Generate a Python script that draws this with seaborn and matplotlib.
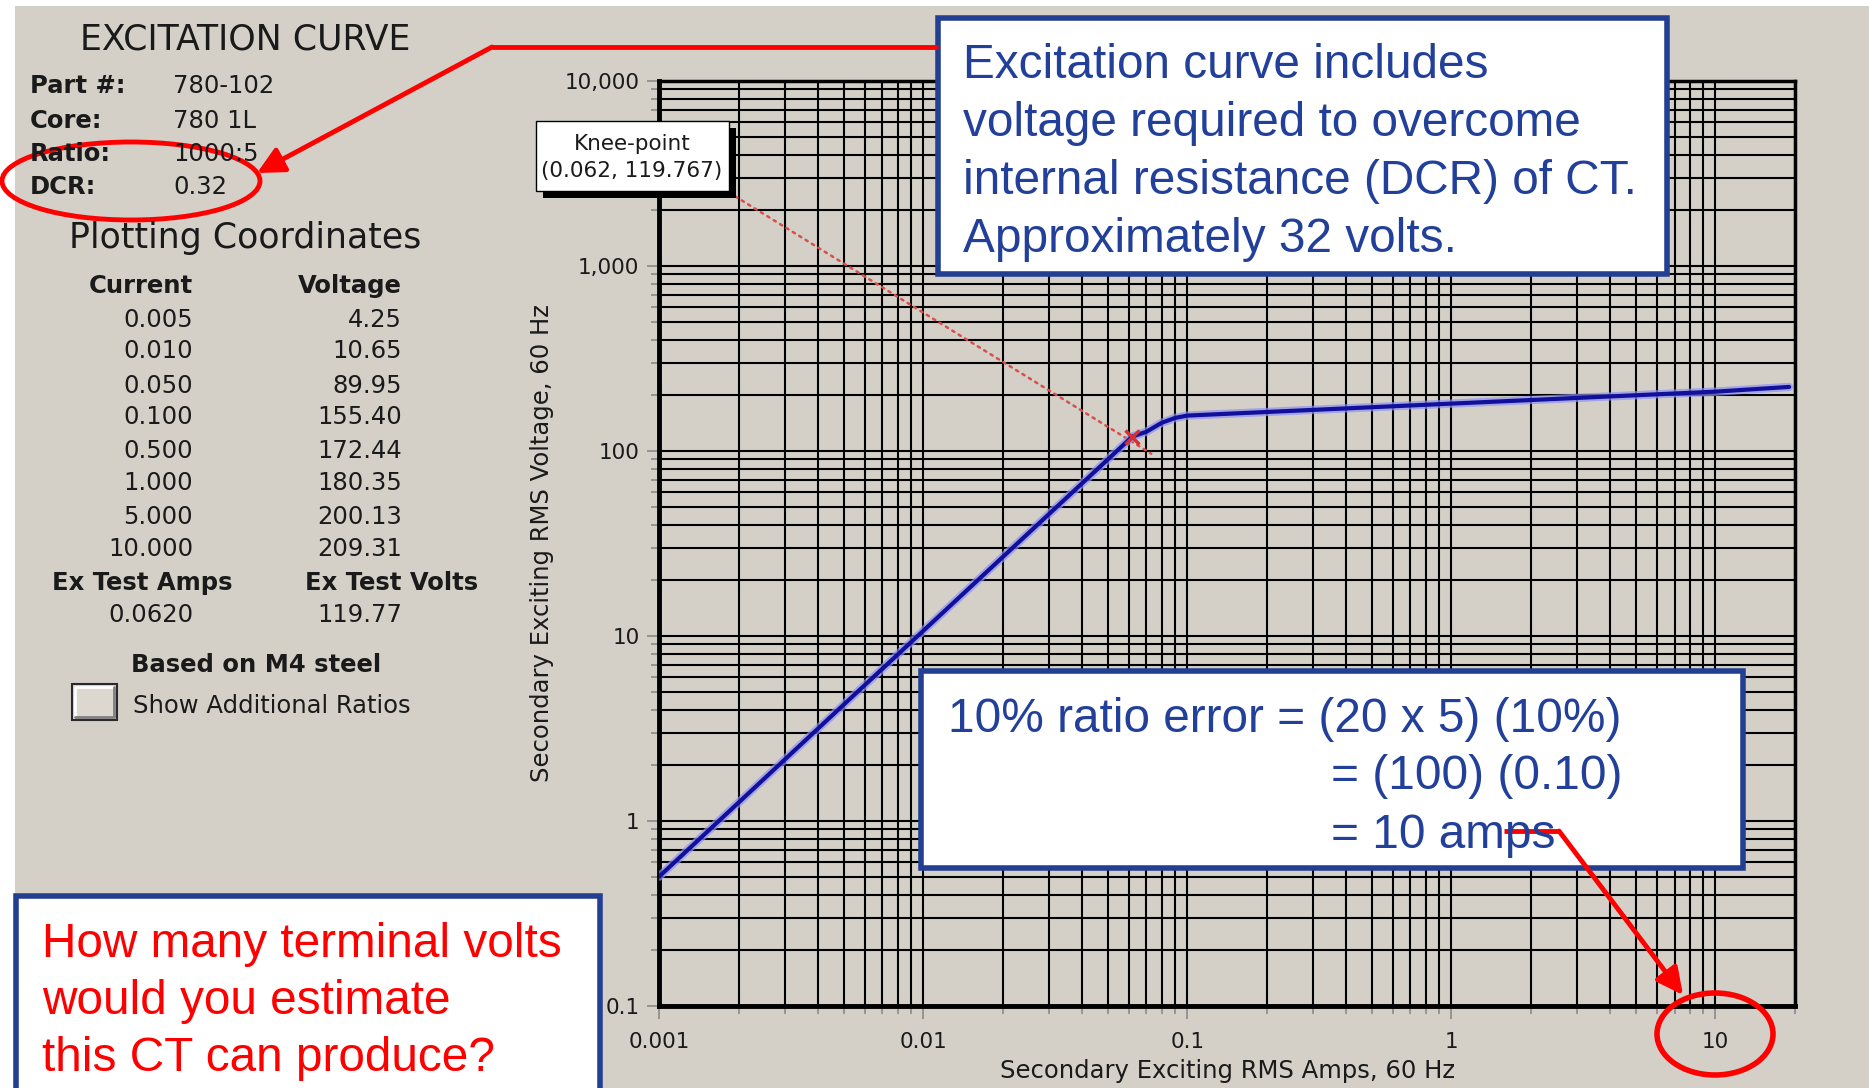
import numpy as np
import matplotlib.pyplot as plt
import matplotlib.patheffects as pe
from matplotlib.patches import Rectangle, Ellipse, FancyArrowPatch
from matplotlib.ticker import LogLocator, NullFormatter
import seaborn as sns

# excitation curve (table points + a few read points)
curve_amps = [0.001, 0.005, 0.010, 0.050, 0.062, 0.070, 0.080, 0.090, 0.100,
              0.500, 1.000, 5.000, 10.000, 19.0]
curve_volts = [0.50, 4.25, 10.65, 89.95, 119.77, 127.0, 142.0, 151.0, 155.40,
               172.44, 180.35, 200.13, 209.31, 222.0]

knee_amps = 0.062
knee_volts = 119.767

info_labels = ["Part #:", "Core:", "Ratio:", "DCR:"]
info_values = ["780-102", "780 1L", "1000:5", "0.32"]

table_amps = [0.005, 0.010, 0.050, 0.100, 0.500, 1.000, 5.000, 10.000]
table_volts = [4.25, 10.65, 89.95, 155.40, 172.44, 180.35, 200.13, 209.31]
ex_test_amps = 0.0620
ex_test_volts = 119.77

x_ticks = [0.001, 0.01, 0.1, 1, 10]
x_ticklabels = ["0.001", "0.01", "0.1", "1", "10"]
y_ticks = [0.1, 1, 10, 100, 1000, 10000]
y_ticklabels = ["0.1", "1", "10", "100", "1,000", "10,000"]

note_top = ["Excitation curve includes", "voltage required to overcome",
            "internal resistance (DCR) of CT.", "Approximately 32 volts."]
note_ratio = ["10% ratio error = (20 x 5) (10%)", "= (100) (0.10)", "= 10 amps"]
note_question = ["How many terminal volts", "would you estimate", "this CT can produce?"]

W, H = 1869, 1088
GREY = "#D4D0C8"
BOX_BLUE = "#233F92"
TXT_BLUE = "#22409A"
RED = "#FF0000"
INK = "#1a1a1a"

sns.set_style("ticks")
plt.rcParams["font.family"] = ["DejaVu Sans"]

fig = plt.figure(figsize=(W / 100, H / 100), dpi=100, facecolor="white")
fig.add_artist(Rectangle((15 / W, 0), 1 - 15 / W, 1 - 6 / H, transform=fig.transFigure,
                         facecolor=GREY, edgecolor="none", zorder=-5))

# ---- main log-log chart
ax = fig.add_axes([659 / W, 1 - 1006 / H, 1136 / W, 925 / H])
ax.set_facecolor(GREY)
ax.set_xscale("log")
ax.set_yscale("log")
sns.lineplot(x=curve_amps, y=curve_volts, ax=ax, color="#10109C", lw=3,
             estimator=None, sort=False, zorder=5,
             path_effects=[pe.Stroke(linewidth=6, foreground="#9090F0", alpha=0.7), pe.Normal()])

ax.set_xlim(0.001, 20)
ax.set_ylim(0.1, 10000)
ax.set_xticks(x_ticks, x_ticklabels)
ax.set_yticks(y_ticks, y_ticklabels)
ax.xaxis.set_minor_locator(LogLocator(base=10, subs=np.arange(2, 10)))
ax.yaxis.set_minor_locator(LogLocator(base=10, subs=np.arange(2, 10)))
ax.xaxis.set_minor_formatter(NullFormatter())
ax.yaxis.set_minor_formatter(NullFormatter())
ax.set_axisbelow(True)
ax.grid(which="both", color="black", lw=1.5)
for s in ax.spines.values():
    s.set_visible(True)
    s.set_color("black")
    s.set_linewidth(2.5)
ax.spines["left"].set_linewidth(3.5)
ax.spines["bottom"].set_linewidth(3.5)

ax.tick_params(which="both", direction="out", color="#8a8a8a", width=1.2,
               labelsize=15.5, labelcolor=INK)
ax.tick_params(which="major", length=9)
ax.tick_params(which="minor", length=6)
ax.tick_params(axis="y", pad=5)
ax.tick_params(axis="x", pad=10)

ax.set_xlabel("Secondary Exciting RMS Amps, 60 Hz", fontsize=17.5, color=INK)
ax.set_ylabel("Secondary Exciting RMS Voltage, 60 Hz", fontsize=17.5, color=INK)
ax.xaxis.set_label_coords(0.5, (1006 - 1071) / 925)
ax.yaxis.set_label_coords((542 - 659) / 1136, 0.5)
ax.xaxis.label.set_va("center")
ax.yaxis.label.set_va("center")

# knee-point pointer
ax.annotate("", xy=(0.0746, 95), xytext=(733, H - 195), textcoords="figure pixels",
            arrowprops=dict(arrowstyle="-", color="#D8504A", lw=1.8, ls=(0, (1, 2))),
            annotation_clip=False)
ax.plot([knee_amps], [knee_volts], marker="x", color="#D83030", ms=10, mew=2.5, zorder=6)

# ---- overlay in pixel coordinates (origin top-left)
ov = fig.add_axes([0, 0, 1, 1], zorder=10)
ov.set_xlim(0, W)
ov.set_ylim(H, 0)
ov.axis("off")
ov.patch.set_alpha(0)

# knee-point label box with shadow
ov.add_patch(Rectangle((543, 128), 193, 70, facecolor="black", edgecolor="none"))
ov.add_patch(Rectangle((536, 121), 193, 70, facecolor="white", edgecolor="black", lw=1))
ov.text(632, 144, "Knee-point", ha="center", va="center", fontsize=15.5, color=INK)
ov.text(632, 171, f"({knee_amps:.3f}, {knee_volts:.3f})", ha="center", va="center",
        fontsize=15.5, color=INK)

# left info panel
ov.text(245, 50, "EXCITATION CURVE", ha="center", va="baseline", fontsize=25, color=INK)
info_base = [93, 128, 161, 194]
for lab, val, yb in zip(info_labels, info_values, info_base):
    ov.text(30, yb, lab, ha="left", va="baseline", fontsize=17.5, fontweight="bold", color=INK)
    ov.text(173, yb, val, ha="left", va="baseline", fontsize=17.5, color=INK)

ov.text(245, 248, "Plotting Coordinates", ha="center", va="baseline", fontsize=25, color=INK)
ov.text(193, 293, "Current", ha="right", va="baseline", fontsize=17.5, fontweight="bold", color=INK)
ov.text(402, 293, "Voltage", ha="right", va="baseline", fontsize=17.5, fontweight="bold", color=INK)
row_base = [327, 358, 393, 424, 458, 490, 524, 556]
for a, v, yb in zip(table_amps, table_volts, row_base):
    ov.text(193, yb, f"{a:.3f}", ha="right", va="baseline", fontsize=17.5, color=INK)
    ov.text(402, yb, f"{v:.2f}", ha="right", va="baseline", fontsize=17.5, color=INK)

ov.text(142, 590, "Ex Test Amps", ha="center", va="baseline", fontsize=17.5, fontweight="bold", color=INK)
ov.text(392, 590, "Ex Test Volts", ha="center", va="baseline", fontsize=17.5, fontweight="bold", color=INK)
ov.text(193, 622, f"{ex_test_amps:.4f}", ha="right", va="baseline", fontsize=17.5, color=INK)
ov.text(402, 622, f"{ex_test_volts:.2f}", ha="right", va="baseline", fontsize=17.5, color=INK)
ov.text(256, 672, "Based on M4 steel", ha="center", va="baseline", fontsize=17.5, fontweight="bold", color=INK)

# checkbox
ov.add_patch(Rectangle((72, 684), 45, 36, facecolor="#DCD8D0", edgecolor="#2a2a2a", lw=1.5))
ov.plot([75, 75, 114], [717, 687, 687], color="white", lw=2)
ov.plot([75, 114, 114], [717, 717, 687], color="#808080", lw=2)
ov.text(133, 713, "Show Additional Ratios", ha="left", va="baseline", fontsize=17.5, color=INK)

# slide call-out boxes
slide_font = dict(family="Liberation Sans", fontsize=34.4)
ov.add_patch(Rectangle((938, 18), 729, 256, facecolor="white", edgecolor=BOX_BLUE, lw=4))
for line, yb in zip(note_top, [78, 136, 194, 252]):
    ov.text(963, yb, line, ha="left", va="baseline", color=TXT_BLUE, **slide_font)

ov.add_patch(Rectangle((921, 671), 822, 197, facecolor="white", edgecolor=BOX_BLUE, lw=4))
for line, xl, yb in zip(note_ratio, [948, 1331, 1331], [732, 789, 848]):
    ov.text(xl, yb, line, ha="left", va="baseline", color=TXT_BLUE, **slide_font)

ov.add_patch(Rectangle((16, 896), 584, 220, facecolor="white", edgecolor=BOX_BLUE, lw=4,
                       clip_on=False))
for line, yb in zip(note_question, [957, 1014, 1071]):
    ov.text(42, yb, line, ha="left", va="baseline", color=RED, **slide_font)

# red markup: DCR pointer + circle
ov.plot([938, 492], [47, 47], color=RED, lw=3.5, solid_capstyle="butt")
ov.add_patch(FancyArrowPatch((492, 47), (257, 173), arrowstyle="-|>,head_length=1.0,head_width=0.5",
                             mutation_scale=16, color=RED, lw=3.5, shrinkA=0, shrinkB=0))
ov.add_patch(Ellipse((131, 181), 258, 78, fill=False, edgecolor=RED, lw=3.5))

# red markup: 10 amps pointer + circle
ov.plot([1504, 1559], [831, 831], color=RED, lw=3.5, solid_capstyle="butt")
ov.add_patch(FancyArrowPatch((1559, 831), (1683, 995), arrowstyle="-|>,head_length=1.0,head_width=0.5",
                             mutation_scale=16, color=RED, lw=3.5, shrinkA=0, shrinkB=0))
ov.add_patch(Ellipse((1715, 1034), 116, 82, fill=False, edgecolor=RED, lw=4))

fig.savefig("out.png", dpi=100, facecolor=fig.get_facecolor())
